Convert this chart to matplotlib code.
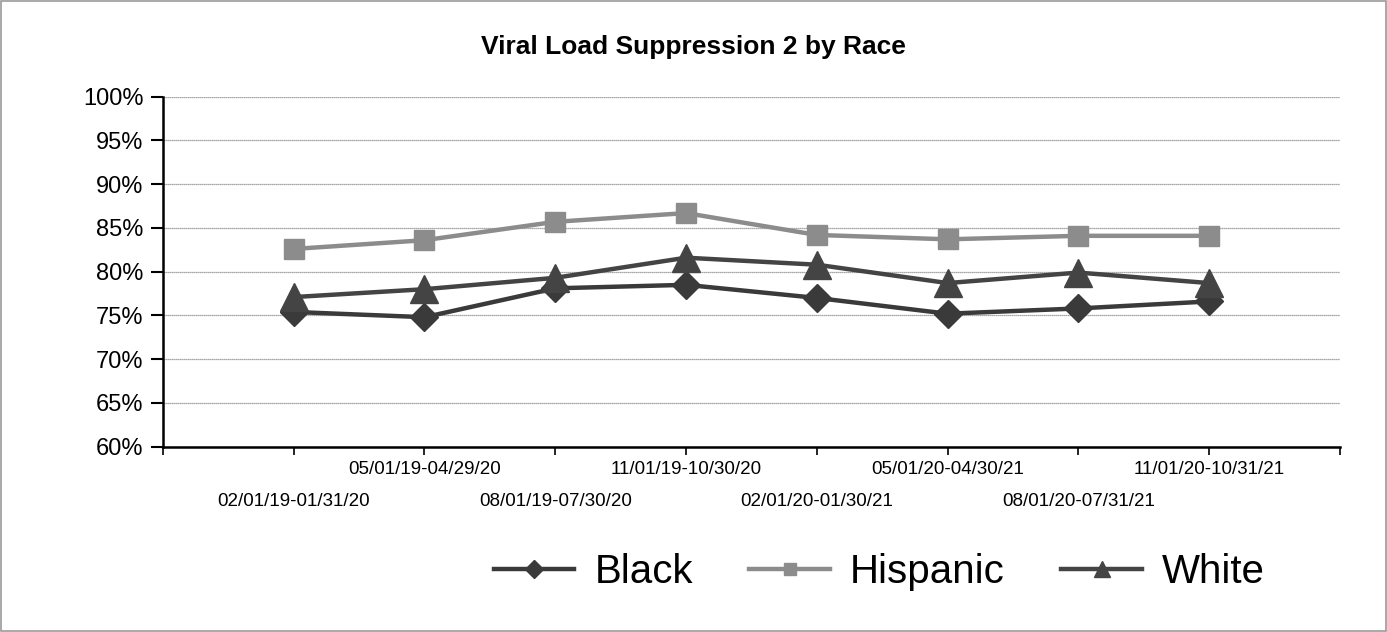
import numpy as np
import matplotlib
matplotlib.use('Agg')
import matplotlib.pyplot as plt
from matplotlib.patches import Rectangle
from matplotlib.ticker import FixedLocator, PercentFormatter

plt.rcParams['font.family'] = ['Liberation Sans', 'DejaVu Sans']

periods = ['02/01/19-01/31/20', '05/01/19-04/29/20', '08/01/19-07/30/20',
           '11/01/19-10/30/20', '02/01/20-01/30/21', '05/01/20-04/30/21',
           '08/01/20-07/31/21', '11/01/20-10/31/21']
black = [75.4, 74.8, 78.1, 78.5, 77.0, 75.2, 75.8, 76.6]
hispanic = [82.6, 83.6, 85.7, 86.7, 84.2, 83.7, 84.1, 84.1]
white = [77.1, 78.0, 79.3, 81.6, 80.8, 78.7, 79.9, 78.7]

x = np.arange(1, len(periods) + 1)

fig = plt.figure(figsize=(13.87, 6.32), dpi=100)
ax = fig.add_axes([0.1175, 0.2932, 0.8485, 0.5538])

ax.plot(x, black, color='#3a3a3a', lw=3.2, marker='D', ms=14.5,
        label='Black', zorder=4)
ax.plot(x, hispanic, color='#8c8c8c', lw=3.2, marker='s', ms=15,
        label='Hispanic', zorder=3)
ax.plot(x, white, color='#444444', lw=3.2, marker='^', ms=19.5,
        label='White', zorder=5)

ax.set_ylim(60, 100)
ax.set_xlim(0, len(periods) + 1)
ax.yaxis.set_major_locator(FixedLocator(np.arange(60, 101, 5)))
ax.yaxis.set_major_formatter(PercentFormatter(decimals=0))
ax.grid(axis='y', color='#8a8a8a', lw=0.9, ls=(0, (1, 0.6)))
ax.set_axisbelow(True)

# staggered category labels: upper row on the major ticks,
# lower row on invisible minor ticks with a bigger pad
ticks = np.arange(0, len(periods) + 2)
upper = [''] + [p if i % 2 == 1 else '' for i, p in enumerate(periods)] + ['']
ax.set_xticks(ticks)
ax.set_xticklabels(upper, fontsize=13.5)
ax.xaxis.remove_overlapping_locs = False
ax.set_xticks(x[::2], minor=True)
ax.set_xticklabels(periods[::2], minor=True, fontsize=13.5)

ax.tick_params(axis='y', labelsize=17, length=9, width=1.5, pad=5)
ax.tick_params(axis='x', which='major', length=6, width=1.2, pad=4)
ax.tick_params(axis='x', which='minor', length=0, pad=33)

for side in ['top', 'right']:
    ax.spines[side].set_visible(False)
ax.spines['left'].set_linewidth(1.8)
ax.spines['bottom'].set_linewidth(1.8)

fig.text(0.5, 0.926, 'Viral Load Suppression 2 by Race', ha='center',
         va='center', fontsize=19, fontweight='bold')

fig.legend(loc='center', bbox_to_anchor=(0.634, 0.095), ncol=3,
           frameon=False, fontsize=29, markerscale=0.6, handlelength=2.0,
           handletextpad=0.5, columnspacing=1.4)

fig.patches.append(Rectangle((0.001, 0.001), 0.998, 0.998,
                             transform=fig.transFigure, fill=False,
                             edgecolor='#9a9a9a', lw=1.2))

fig.savefig('out.png', dpi=100)
